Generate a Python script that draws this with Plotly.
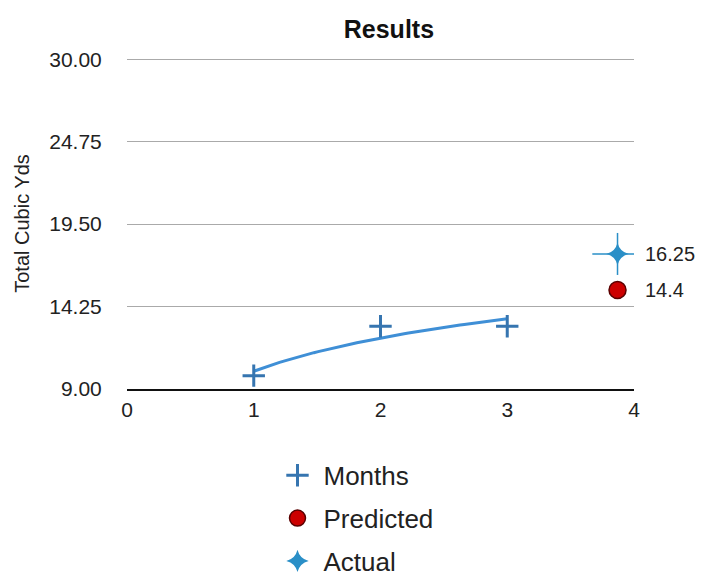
import numpy as np
import plotly.graph_objects as go

months_x = [1, 2, 3]
months_y = [9.85, 13.0, 13.0]
predicted_x = [3.87]
predicted_y = [15.3]
predicted_label = ["14.4"]
actual_x = [3.87]
actual_y = [17.6]
actual_label = ["16.25"]
y_ticks = [9.0, 14.25, 19.5, 24.75, 30.0]
y_tick_text = ["9.00", "14.25", "19.50", "24.75", "30.00"]
x_ticks = [0, 1, 2, 3, 4]

# logarithmic trendline fitted to the Months series
b, a = np.polyfit(np.log(months_x), months_y, 1)
trend_x = np.linspace(1, 3, 60)
trend_y = a + b * np.log(trend_x)

font = "Liberation Sans, Arial, Helvetica, sans-serif"
blue_star = "#2a8fc7"
fig = go.Figure()
fig.add_trace(go.Scatter(x=trend_x, y=trend_y, mode="lines",
                         line=dict(color="#3f8fd6", width=3), showlegend=False,
                         hoverinfo="skip"))
fig.add_trace(go.Scatter(x=months_x, y=months_y, mode="markers", name="Months",
                         legendgroup="a",
                         marker=dict(symbol="cross-thin", size=16,
                                     line=dict(color="#3675b0", width=3))))
fig.add_trace(go.Scatter(x=predicted_x, y=predicted_y, mode="markers", name="Predicted",
                         legendgroup="b",
                         marker=dict(symbol="circle", size=17, color="#cc0000",
                                     line=dict(color="#5a0000", width=1.5))))
# sparkle arms for the Actual marker
fig.add_trace(go.Scatter(x=actual_x, y=actual_y, mode="markers", showlegend=False,
                         hoverinfo="skip",
                         marker=dict(symbol="line-ew", size=36,
                                     line=dict(color=blue_star, width=1.5))))
fig.add_trace(go.Scatter(x=actual_x, y=actual_y, mode="markers", showlegend=False,
                         hoverinfo="skip",
                         marker=dict(symbol="line-ns", size=30,
                                     line=dict(color=blue_star, width=1.5))))
fig.add_trace(go.Scatter(x=actual_x, y=actual_y, mode="markers", name="Actual",
                         legendgroup="c",
                         marker=dict(symbol="star-diamond", size=16, color=blue_star,
                                     line=dict(width=0))))

for xs, ys, labs in [(actual_x, actual_y, actual_label), (predicted_x, predicted_y, predicted_label)]:
    for xv, yv, t in zip(xs, ys, labs):
        fig.add_annotation(x=xv, y=yv, text=t, showarrow=False, xanchor="left",
                           xshift=25, font=dict(size=20, color="#222"))

fig.update_layout(
    width=712, height=577,
    margin=dict(l=119, r=86, t=50, b=196, autoexpand=False),
    plot_bgcolor="white", paper_bgcolor="white",
    font=dict(family=font, color="#222"),
    title=dict(text="<b>Results</b>", x=0.535, xanchor="center", y=0.963, yanchor="middle",
               font=dict(size=25, color="#111")),
    legend=dict(x=0.285, xanchor="left", y=-0.19, yanchor="top", tracegroupgap=6,
                itemwidth=42,
                font=dict(size=26, color="#222"), bgcolor="rgba(0,0,0,0)"),
    showlegend=True,
)
fig.update_xaxes(range=[0, 4], tickvals=x_ticks, showgrid=False, zeroline=False,
                 showline=True, linecolor="#111", linewidth=1.5,
                 tickfont=dict(size=21), ticks="outside", ticklen=1, tickcolor="rgba(0,0,0,0)",
                 automargin=False)
fig.update_yaxes(range=[9, 30.08], tickvals=y_ticks, ticktext=y_tick_text,
                 showgrid=True, gridcolor="#aaaaaa", gridwidth=1, zeroline=False,
                 showline=False, tickfont=dict(size=21), ticks="outside",
                 ticklen=20, tickcolor="rgba(0,0,0,0)", automargin=False,
                 title=dict(text="Total Cubic Yds", font=dict(size=20), standoff=14))
fig.write_html("out.html")
